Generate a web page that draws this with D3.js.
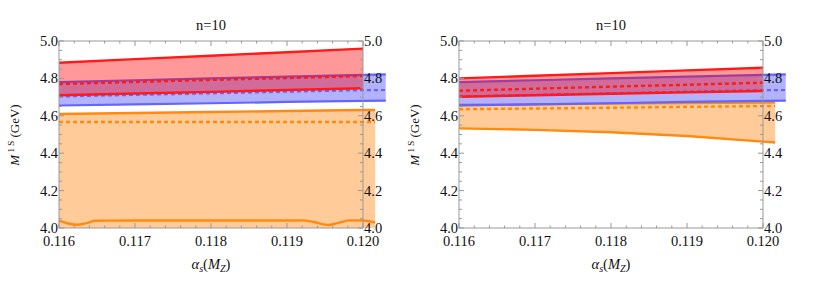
<!DOCTYPE html>
<html>
<head>
<meta charset="utf-8">
<script src="https://cdn.jsdelivr.net/npm/d3@7"></script>
<style>
  body { margin: 0; background: #fff; }
</style>
</head>
<body>
<div id="chart"></div>
<script>
// ---- data ----
const alphaTicks = [0.116, 0.117, 0.118, 0.119, 0.120];
const massTicks = [4.0, 4.2, 4.4, 4.6, 4.8, 5.0];

// x grids
const alphaRed = [0.116, 0.117, 0.118, 0.119, 0.120];
const alphaBlue = [0.116, 0.117, 0.118, 0.119, 0.120, 0.1203];
const alphaOrange = [0.116, 0.117, 0.118, 0.119, 0.120, 0.12016];

// blue band (same in both panels)
const blueTop = [4.780, 4.790, 4.800, 4.810, 4.819, 4.821];
const blueMid = [4.703, 4.712, 4.720, 4.729, 4.737, 4.738];
const blueLow = [4.655, 4.661, 4.667, 4.674, 4.680, 4.681];

// left panel
const redTopL = [4.884, 4.903, 4.921, 4.940, 4.959];
const redMidL = [4.770, 4.781, 4.792, 4.802, 4.813];
const redLowL = [4.710, 4.719, 4.728, 4.738, 4.747];
const orangeTopL = [4.610, 4.615, 4.620, 4.626, 4.631, 4.631];
const orangeMidL = [4.567, 4.567, 4.567, 4.567, 4.567, 4.567];
const wavyAlphaL = [0.11600, 0.11612, 0.11624, 0.11636, 0.11648, 0.11700, 0.11800, 0.11900, 0.11920, 0.11935, 0.11955, 0.11970, 0.11982, 0.12000, 0.12016];
const wavyMassL = [4.039, 4.024, 4.017, 4.026, 4.039, 4.040, 4.040, 4.040, 4.041, 4.032, 4.016, 4.030, 4.041, 4.040, 4.029];

// right panel
const redTopR = [4.800, 4.814, 4.828, 4.843, 4.857];
const redMidR = [4.734, 4.745, 4.756, 4.766, 4.777];
const redLowR = [4.702, 4.710, 4.718, 4.725, 4.733];
const orangeTopR = [4.658, 4.661, 4.665, 4.668, 4.671, 4.672];
const orangeMidR = [4.635, 4.639, 4.643, 4.648, 4.652, 4.652];
const orangeLowR = [4.533, 4.525, 4.512, 4.492, 4.462, 4.457];

const panels = [
  { left: 59, title: "n=10",
    red: [redTopL, redMidL, redLowL],
    orange: { top: orangeTopL, mid: orangeMidL, low: null },
    wavy: { x: wavyAlphaL, y: wavyMassL } },
  { left: 459, title: "n=10",
    red: [redTopR, redMidR, redLowR],
    orange: { top: orangeTopR, mid: orangeMidR, low: orangeLowR },
    wavy: null }
];

const W = 830, H = 287;
const plotTop = 41, plotBottom = 228, plotW = 304;
const FONT = "'Liberation Serif', 'Times New Roman', 'DejaVu Serif', serif";

const svg = d3.select("#chart").append("svg")
  .attr("width", W).attr("height", H)
  .attr("font-family", FONT)
  .style("font-family", FONT);

const RED = "#ff1a1a", BLUE = "#6464ff", ORANGE = "#ff8a12";

panels.forEach(p => {
  const x = d3.scaleLinear().domain([0.116, 0.120]).range([p.left, p.left + plotW]);
  const y = d3.scaleLinear().domain([4.0, 5.0]).range([plotBottom, plotTop]);
  const g = svg.append("g");

  const zip = (xs, ys) => ys.map((v, i) => [xs[i], v]);
  const line = d3.line().x(d => x(d[0])).y(d => y(d[1]));
  const band = (xs, hi, lo) => d3.area()
    .x((d, i) => x(xs[i]))
    .y0((d, i) => y(lo ? lo[i] : 4.0))
    .y1(d => y(d))(hi);

  // orange band
  g.append("path").attr("d", band(alphaOrange, p.orange.top, p.orange.low))
    .attr("fill", "rgb(255,204,153)");
  g.append("path").attr("d", line(zip(alphaOrange, p.orange.top)))
    .attr("fill", "none").attr("stroke", ORANGE).attr("stroke-width", 2.4);
  g.append("path").attr("d", line(zip(alphaOrange, p.orange.mid)))
    .attr("fill", "none").attr("stroke", ORANGE).attr("stroke-width", 2.4)
    .attr("stroke-dasharray", "4 3");
  if (p.orange.low) {
    g.append("path").attr("d", line(zip(alphaOrange, p.orange.low)))
      .attr("fill", "none").attr("stroke", ORANGE).attr("stroke-width", 2.4);
  }
  if (p.wavy) {
    g.append("path")
      .attr("d", d3.line().curve(d3.curveMonotoneX).x(d => x(d[0])).y(d => y(d[1]))(zip(p.wavy.x, p.wavy.y)))
      .attr("fill", "none").attr("stroke", ORANGE).attr("stroke-width", 2.4);
  }

  // blue band
  g.append("path").attr("d", band(alphaBlue, blueTop, blueLow))
    .attr("fill", "rgba(0,0,255,0.3)");
  [blueTop, blueLow].forEach(arr => {
    g.append("path").attr("d", line(zip(alphaBlue, arr)))
      .attr("fill", "none").attr("stroke", BLUE).attr("stroke-width", 2.2);
  });
  g.append("path").attr("d", line(zip(alphaBlue, blueMid)))
    .attr("fill", "none").attr("stroke", BLUE).attr("stroke-width", 2.2)
    .attr("stroke-dasharray", "4 3");

  // red band
  g.append("path").attr("d", band(alphaRed, p.red[0], p.red[2]))
    .attr("fill", "rgba(255,0,0,0.4)");
  [p.red[0], p.red[2]].forEach(arr => {
    g.append("path").attr("d", line(zip(alphaRed, arr)))
      .attr("fill", "none").attr("stroke", RED).attr("stroke-width", 2.4);
  });
  g.append("path").attr("d", line(zip(alphaRed, p.red[1])))
    .attr("fill", "none").attr("stroke", RED).attr("stroke-width", 2.4)
    .attr("stroke-dasharray", "4 3");

  // frame
  g.append("rect")
    .attr("x", p.left).attr("y", plotTop).attr("width", plotW).attr("height", plotBottom - plotTop)
    .attr("fill", "none").attr("stroke", "#999").attr("stroke-width", 1);

  // ticks
  const minorY = d3.range(4.0, 5.001, 0.05);
  const minorX = d3.range(0.116, 0.12001, 0.0002);
  const tickG = g.append("g").attr("stroke", "#999").attr("stroke-width", 1);
  minorY.forEach(v => {
    const major = massTicks.some(t => Math.abs(t - v) < 1e-6);
    const len = major ? 5 : 3;
    tickG.append("line").attr("x1", x(0.116)).attr("x2", x(0.116) + len)
      .attr("y1", y(v)).attr("y2", y(v));
    tickG.append("line").attr("x1", x(0.120)).attr("x2", x(0.120) - len)
      .attr("y1", y(v)).attr("y2", y(v));
  });
  minorX.forEach(v => {
    const major = alphaTicks.some(t => Math.abs(t - v) < 1e-7);
    const len = major ? 5 : 2.5;
    tickG.append("line").attr("x1", x(v)).attr("x2", x(v))
      .attr("y1", plotBottom).attr("y2", plotBottom - len);
    tickG.append("line").attr("x1", x(v)).attr("x2", x(v))
      .attr("y1", plotTop).attr("y2", plotTop + len);
  });

  // tick labels
  const txt = (sel) => sel.attr("font-family", FONT).attr("fill", "#111");
  massTicks.forEach(v => {
    txt(g.append("text")).attr("x", p.left - 1).attr("y", y(v)).attr("dy", "0.35em")
      .attr("text-anchor", "end").attr("font-size", 14.5).text(v.toFixed(1));
    txt(g.append("text")).attr("x", p.left + plotW + 1).attr("y", y(v)).attr("dy", "0.35em")
      .attr("text-anchor", "start").attr("font-size", 14.5).text(v.toFixed(1));
  });
  alphaTicks.forEach(v => {
    txt(g.append("text")).attr("x", x(v)).attr("y", 246)
      .attr("text-anchor", "middle").attr("font-size", 14.5).text(v.toFixed(3));
  });

  // title
  txt(g.append("text")).attr("x", p.left + plotW / 2).attr("y", 30)
    .attr("text-anchor", "middle").attr("font-size", 14.5).text(p.title);

  // x label
  const xl = txt(g.append("text")).attr("x", p.left + plotW / 2).attr("y", 269)
    .attr("text-anchor", "middle").attr("font-size", 14.5);
  xl.append("tspan").attr("font-style", "italic").text("α");
  xl.append("tspan").attr("font-style", "italic").attr("font-size", 10).attr("dy", 3).text("s");
  xl.append("tspan").attr("dy", -3).text("(");
  xl.append("tspan").attr("font-style", "italic").text("M");
  xl.append("tspan").attr("font-style", "italic").attr("font-size", 10).attr("dy", 3).text("Z");
  xl.append("tspan").attr("dy", -3).text(")");

  // y label
  const yl = txt(g.append("text"))
    .attr("transform", `translate(${p.left - 40},135) rotate(-90)`)
    .attr("text-anchor", "middle").attr("font-size", 13);
  yl.append("tspan").attr("font-style", "italic").text("M");
  yl.append("tspan").attr("font-size", 9).attr("dy", -5).text(" 1 S");
  yl.append("tspan").attr("dy", 5).text(" (GeV)");
});
</script>
</body>
</html>
